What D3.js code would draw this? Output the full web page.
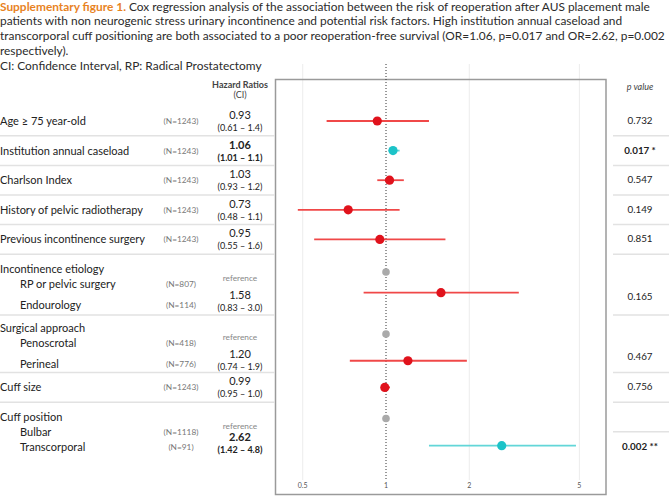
<!DOCTYPE html>
<meta charset="utf-8">
<script src="https://cdn.jsdelivr.net/npm/d3@7"></script>
<style>
	body{margin:0;background:#fff;font-family:Lato,"Open Sans",sans-serif;}
	svg text{font-family:Lato,"Open Sans",sans-serif;}
</style>
<div id="chart"></div>
<script>
// caption
var captionLead = "Supplementary figure 1."
var captionLines = [" Cox regression analysis of the association between the risk of reoperation after AUS placement male",
	"patients with non neurogenic stress urinary incontinence and potential risk factors. High institution annual caseload and",
	"transcorporal cuff positioning are both associated to a poor reoperation-free survival (OR=1.06, p=0.017 and OR=2.62, p=0.002",
	"respectively).",
	"CI: Confidence Interval, RP: Radical Prostatectomy"]

// table rows
var labels = ["Age \u2265 75 year-old","Institution annual caseload","Charlson Index","History of pelvic radiotherapy",
	"Previous incontinence surgery","Incontinence etiology","RP or pelvic surgery","Endourology",
	"Surgical approach","Penoscrotal","Perineal","Cuff size","Cuff position","Bulbar","Transcorporal"]
var subRow = [0,0,0,0,0,0,1,1,0,1,1,0,0,1,1]
var nLabels = ["(N=1243)","(N=1243)","(N=1243)","(N=1243)","(N=1243)","","(N=807)","(N=114)",
	"","(N=418)","(N=776)","(N=1243)","","(N=1118)","(N=91)"]
var hrText = ["0.93","1.06","1.03","0.73","0.95","","reference","1.58","","reference","1.20","0.99","","reference","2.62"]
var ciText = ["(0.61 \u2013 1.4)","(1.01 \u2013 1.1)","(0.93 \u2013 1.2)","(0.48 \u2013 1.1)","(0.55 \u2013 1.6)","","",
	"(0.83 \u2013 3.0)","","","(0.74 \u2013 1.9)","(0.95 \u2013 1.0)","","","(1.42 \u2013 4.8)"]
var bold = [0,1,0,0,0,0,0,0,0,0,0,0,0,0,1]

// hazard ratios for the plot (null = header row)
var hr = [0.93,1.06,1.03,0.73,0.95,null,1,1.58,null,1,1.20,0.99,null,1,2.62]
var lo = [0.61,1.02,0.93,0.48,0.55,null,null,0.83,null,null,0.74,0.965,null,null,1.43]
var hi = [1.43,1.12,1.16,1.12,1.64,null,null,3.02,null,null,1.96,1.034,null,null,4.86]
var isRef = [0,0,0,0,0,0,1,0,0,1,0,0,0,1,0]
var signif = [0,1,0,0,0,0,0,0,0,0,0,0,0,0,1]

// p values
var pText = ["0.732","0.017 *","0.547","0.149","0.851","0.165","0.467","0.756","0.002 **"]
var pBold = [0,1,0,0,0,0,0,0,1]

var ticks = [0.5,1,2,5]
var tickLabels = ["0.5","1","2","5"]

// layout in row slots
var rowSlot = [0,1,2,3,4,5,5.5,6.2,7,7.5,8.2,9,10,10.5,11]
var markSlot = [0,1,2,3,4,5,5.1,5.8,7,7.2,8.1,9,10,10.05,10.97]
var pSlot = [0,1,2,3,4,5.95,7.97,9,11]
var sepLeft = [0.5,1.5,2.5,3.5,4.5,6.55,8.5,9.5]
var sepRight = [0.5,1.5,2.5,3.5,4.5,6.55,8.5,9.5,10.5]

var width = 669
var height = 497

var svg = d3.select("#chart").append("svg")
	.attr("width",width)
	.attr("height",height)

var y = d3.scaleLinear().domain([0,1]).range([121,150.6])
var x = d3.scaleLog().domain([0.397,6.24]).range([275,606])

// caption
var cap = svg.append("g").attr("font-size","11.9px").attr("fill","#2b2b2b")
captionLines.forEach(function(line,i){
	var t = cap.append("text").attr("x",0).attr("y",10.5+i*14.8)
	if(i==0){
		t.append("tspan").attr("fill","#e8831f").attr("font-weight","bold").text(captionLead)
	}
	t.append("tspan").text(line)
})

// plot box and grid
var plot = svg.append("g")
plot.selectAll(".grid")
	.data(ticks.filter(function(d){return d!=1}))
	.enter().append("line")
	.attr("x1",function(d){return x(d)}).attr("x2",function(d){return x(d)})
	.attr("y1",64).attr("y2",480)
	.attr("stroke","#ececec").attr("stroke-width",1)

plot.append("rect")
	.attr("x",275.5).attr("y",79.5).attr("width",330.5).attr("height",415)
	.attr("fill","none").attr("stroke","#9a9a9a").attr("stroke-width",1.5)

plot.append("line")
	.attr("x1",x(1)).attr("x2",x(1)).attr("y1",64).attr("y2",480)
	.attr("stroke","#333").attr("stroke-width",1).attr("stroke-dasharray","1,2")

plot.selectAll(".tick")
	.data(ticks).enter().append("text")
	.attr("x",function(d){return x(d)}).attr("y",488)
	.attr("text-anchor","middle").attr("font-size","7px").attr("fill","#555")
	.text(function(d,i){return tickLabels[i]})

// separators
svg.selectAll(".sepL").data(sepLeft).enter().append("line")
	.attr("x1",0).attr("x2",275).attr("y1",function(d){return y(d)}).attr("y2",function(d){return y(d)})
	.attr("stroke","#e2e2e2").attr("stroke-width",1.5)
svg.selectAll(".sepR").data(sepRight).enter().append("line")
	.attr("x1",613).attr("x2",669).attr("y1",function(d){return y(d)}).attr("y2",function(d){return y(d)})
	.attr("stroke","#e2e2e2").attr("stroke-width",1.5)

// header
svg.append("text").attr("x",240).attr("y",88).attr("text-anchor","middle")
	.attr("font-size","9px").attr("font-weight","bold").attr("fill","#444").text("Hazard Ratios")
svg.append("text").attr("x",240).attr("y",97.5).attr("text-anchor","middle")
	.attr("font-size","9px").attr("fill","#444").text("(CI)")
svg.append("text").attr("x",640).attr("y",90).attr("text-anchor","middle")
	.attr("font-size","9px").attr("font-style","italic").attr("fill","#444").text("p value")

// left table
var rows = svg.append("g")
labels.forEach(function(lab,i){
	var ry = y(rowSlot[i])
	rows.append("text").attr("x",subRow[i]?20:0).attr("y",ry+4)
		.attr("font-size","11px").attr("fill","#222").text(lab)
	if(nLabels[i]){
		rows.append("text").attr("x",181).attr("y",ry+3).attr("text-anchor","middle")
			.attr("font-size","8.3px").attr("fill","#777").text(nLabels[i])
	}
	var shift = subRow[i]?-4:0
	if(hrText[i]=="reference"){
		rows.append("text").attr("x",240).attr("y",ry+shift+1).attr("text-anchor","middle")
			.attr("font-size","8.3px").attr("fill","#888").text(hrText[i])
	}else if(hrText[i]){
		rows.append("text").attr("x",240).attr("y",ry+shift-2).attr("text-anchor","middle")
			.attr("font-size","11px").attr("font-weight",bold[i]?"bold":"normal").attr("fill","#222").text(hrText[i])
		rows.append("text").attr("x",240).attr("y",ry+shift+10).attr("text-anchor","middle")
			.attr("font-size","9px").attr("font-weight",bold[i]?"bold":"normal").attr("fill","#222").text(ciText[i])
	}
})

// p values
svg.selectAll(".pval").data(pText).enter().append("text")
	.attr("x",640).attr("y",function(d,i){return y(pSlot[i])+3})
	.attr("text-anchor","middle").attr("font-size","9.8px")
	.attr("font-weight",function(d,i){return pBold[i]?"bold":"normal"})
	.attr("fill","#222").text(function(d){return d})

// marks
var idx = d3.range(hr.length).filter(function(i){return hr[i]!=null})
plot.selectAll(".ci").data(idx.filter(function(i){return lo[i]!=null})).enter().append("line")
	.attr("x1",function(i){return x(lo[i])}).attr("x2",function(i){return x(hi[i])})
	.attr("y1",function(i){return y(markSlot[i])}).attr("y2",function(i){return y(markSlot[i])})
	.attr("stroke",function(i){return signif[i]?"#62d6d8":"#f04848"}).attr("stroke-width",1.8)
plot.selectAll(".pt").data(idx).enter().append("circle")
	.attr("cx",function(i){return x(hr[i])}).attr("cy",function(i){return y(markSlot[i])})
	.attr("r",function(i){return isRef[i]?3.8:4.6})
	.attr("fill",function(i){return isRef[i]?"#aaaaaa":(signif[i]?"#1cc3c8":"#e0121c")})
</script>
